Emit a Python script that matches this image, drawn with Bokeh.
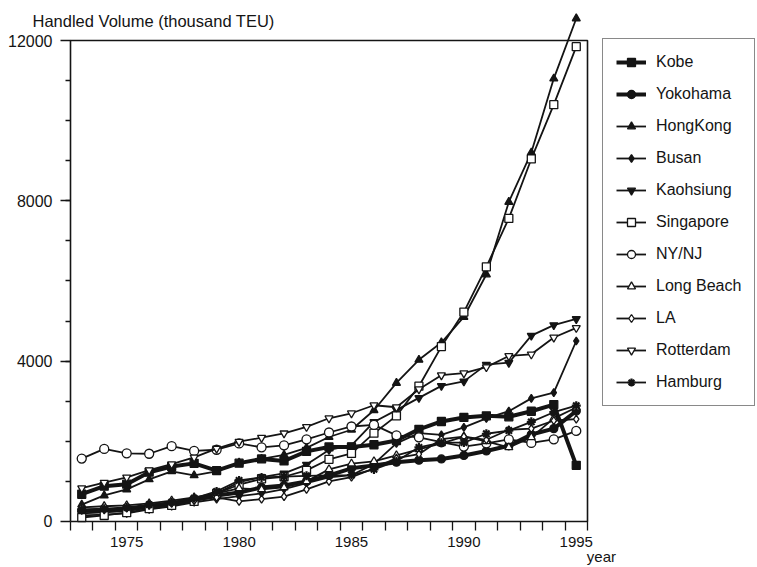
from bokeh.plotting import figure
from bokeh.models import Range1d, FixedTicker, Legend, LegendItem, Label
from bokeh.embed import file_html
from bokeh.resources import INLINE

# ---------------- data (thousand TEU) ----------------
years = list(range(1973, 1996))

kobe = [680, 880, 930, 1230, 1370, 1450, 1270, 1456, 1560, 1510, 1750, 1860,
        1857, 1915, 2020, 2300, 2495, 2596, 2636, 2612, 2750, 2916, 1400]
yokohama = [260, 280, 300, 380, 450, 550, 650, 722, 850, 900, 1000, 1150,
            1327, 1400, 1480, 1530, 1560, 1648, 1760, 1890, 2170, 2317, 2757]
hongkong = [420, 650, 800, 1050, 1250, 1150, 1250, 1465, 1560, 1660, 1837, 2108,
            2289, 2774, 3457, 4033, 4464, 5101, 6162, 7972, 9204, 11050, 12550]
busan = [150, 170, 200, 300, 380, 480, 560, 632, 700, 810, 960, 1100,
         1155, 1438, 1949, 2206, 2159, 2348, 2571, 2751, 3071, 3214, 4503]
kaohsiung = [200, 230, 260, 350, 420, 560, 700, 979, 1107, 1199, 1419, 1786,
             1901, 2483, 2779, 3083, 3383, 3495, 3913, 3961, 4636, 4900, 5053]
singapore = [100, 150, 220, 320, 400, 500, 700, 917, 1064, 1116, 1274, 1552,
             1699, 2203, 2635, 3375, 4364, 5224, 6354, 7560, 9045, 10399, 11846]
nynj = [1570, 1810, 1700, 1690, 1880, 1760, 1790, 1947, 1850, 1900, 2050, 2220,
        2370, 2410, 2150, 2100, 1980, 1870, 1950, 2050, 1960, 2050, 2260]
longbeach = [350, 380, 400, 450, 520, 600, 700, 825, 800, 850, 1000, 1300,
             1443, 1500, 1650, 1800, 1950, 2116, 2000, 1850, 2100, 2574, 2844]
la = [280, 290, 330, 400, 450, 520, 600, 500, 560, 620, 800, 1000,
      1104, 1326, 1580, 1680, 2056, 2116, 2038, 2289, 2319, 2519, 2555]
rotterdam = [830, 970, 1100, 1280, 1430, 1600, 1820, 1990, 2090, 2200, 2360, 2575,
             2700, 2900, 2850, 3300, 3650, 3700, 3850, 4130, 4170, 4590, 4830]
hamburg = [300, 320, 350, 420, 480, 580, 750, 1024, 1100, 1120, 1140, 1150,
           1159, 1300, 1504, 1850, 1966, 1969, 2189, 2268, 2486, 2726, 2890]

port_names = ["Kobe", "Yokohama", "HongKong", "Busan", "Kaohsiung", "Singapore",
              "NY/NJ", "Long Beach", "LA", "Rotterdam", "Hamburg"]
port_values = [kobe, yokohama, hongkong, busan, kaohsiung, singapore,
               nynj, longbeach, la, rotterdam, hamburg]

x_tick_years = [1975, 1980, 1985, 1990, 1995]
y_tick_values = [0, 4000, 8000, 12000]

# ---------------- styles ----------------
INK = "#141414"
FONT = "Liberation Sans"
styles = {
    "Kobe":       dict(marker="square", fill=INK, lw=4.0, size=8),
    "Yokohama":   dict(marker="circle", fill=INK, lw=4.0, size=8),
    "HongKong":   dict(marker="triangle", fill=INK, lw=1.8, size=8),
    "Busan":      dict(marker="diamond", fill=INK, lw=1.8, size=8),
    "Kaohsiung":  dict(marker="inverted_triangle", fill=INK, lw=1.8, size=8),
    "Singapore":  dict(marker="square", fill="white", lw=1.8, size=8),
    "NY/NJ":      dict(marker="circle", fill="white", lw=1.8, size=9),
    "Long Beach": dict(marker="triangle", fill="white", lw=1.8, size=8),
    "LA":         dict(marker="diamond", fill="white", lw=1.8, size=8),
    "Rotterdam":  dict(marker="inverted_triangle", fill="white", lw=1.8, size=8),
    "Hamburg":    dict(marker="asterisk", fill=INK, lw=1.8, size=9),
}

# axes box in data units
BX0, BX1 = 1972.5, 1995.5
BY0, BY1 = 0, 12000

# the frame covers the whole canvas; axes are pinned at the box edges
W, H = 756, 566
p = figure(frame_width=W, frame_height=H,
           x_range=Range1d(1969.386, 2003.018), y_range=Range1d(-1123, 12998),
           output_backend="svg", toolbar_location=None,
           min_border_left=0, min_border_right=0,
           min_border_top=0, min_border_bottom=0)
p.outline_line_color = None
p.grid.visible = False
p.background_fill_color = "white"
p.border_fill_color = "white"

# box
p.line(x=[BX0, BX0, BX1, BX1, BX0], y=[BY0, BY1, BY1, BY0, BY0],
       line_color=INK, line_width=1.6)

items = []
for name, vals in zip(port_names, port_values):
    st = styles[name]
    lr = p.line(years, vals, line_color=INK, line_width=st["lw"])
    sr = p.scatter(years, vals, marker=st["marker"], size=st["size"],
                   fill_color=st["fill"], line_color=INK,
                   line_width=2.2 if st["marker"] == "asterisk" else 1.3)
    items.append(LegendItem(label=name, renderers=[lr, sr]))

# x axis
xa = p.xaxis[0]
xa.fixed_location = BY0
xa.ticker = FixedTicker(ticks=x_tick_years,
                        minor_ticks=[BX0 + i for i in range(24)])
xa.axis_line_color = None
xa.major_tick_line_color = None
xa.major_tick_out = 9
xa.major_tick_in = 0
xa.minor_tick_line_color = INK
xa.minor_tick_line_width = 1.3
xa.minor_tick_out = 9
xa.minor_tick_in = 0
xa.major_label_standoff = 7
xa.major_label_text_font = FONT
xa.major_label_text_font_size = "15px"
xa.major_label_text_color = INK

# y axis
ya = p.yaxis[0]
ya.fixed_location = BX0
ya.ticker = FixedTicker(ticks=y_tick_values,
                        minor_ticks=list(range(1000, 12000, 1000)))
ya.axis_line_color = None
ya.major_tick_line_color = INK
ya.major_tick_line_width = 1.3
ya.major_tick_out = 10
ya.major_tick_in = 0
ya.minor_tick_line_color = INK
ya.minor_tick_line_width = 1.3
ya.minor_tick_out = 5
ya.minor_tick_in = 0
ya.major_label_standoff = 8
ya.major_label_text_font = FONT
ya.major_label_text_font_size = "16px"
ya.major_label_text_color = INK

# texts
p.add_layout(Label(x=1970.81, y=12499, text="Handled Volume (thousand TEU)",
                   text_font=FONT, text_font_size="16.5px", text_color=INK,
                   text_baseline="middle", text_align="left"))
p.add_layout(Label(x=1996.12, y=-873, text="year",
                   text_font=FONT, text_font_size="15px", text_color=INK,
                   text_baseline="middle", text_align="center"))

legend = Legend(items=items, location=(602, 160),
                glyph_width=30, glyph_height=20, label_height=20,
                label_standoff=10, spacing=12, padding=13, margin=0,
                border_line_color=INK, border_line_width=1.5,
                background_fill_color="white", background_fill_alpha=1.0,
                label_text_font=FONT, label_text_font_size="16px",
                label_text_color=INK)
p.add_layout(legend, "center")

open("out.html", "w").write(file_html(p, INLINE))
